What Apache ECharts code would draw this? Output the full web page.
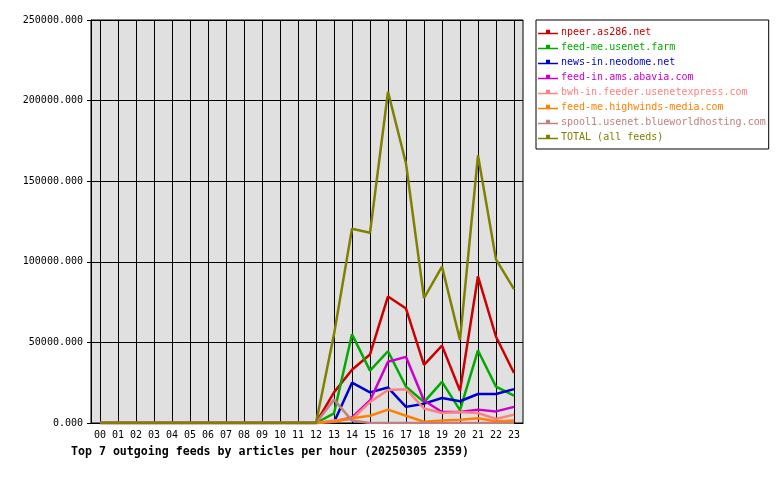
<!DOCTYPE html>
<html>
<head>
<meta charset="utf-8">
<script src="https://cdn.jsdelivr.net/npm/echarts@6/dist/echarts.min.js"></script>
<style>
  html, body { margin: 0; padding: 0; background: #fff; }
  #chart { width: 780px; height: 480px; }
</style>
</head>
<body>
<div id="chart"></div>
<script>
// hours of the day
const hours = ['00','01','02','03','04','05','06','07','08','09','10','11',
               '12','13','14','15','16','17','18','19','20','21','22','23'];

const feedNames = [
    'npeer.as286.net',
    'feed-me.usenet.farm',
    'news-in.neodome.net',
    'feed-in.ams.abavia.com',
    'bwh-in.feeder.usenetexpress.com',
    'feed-me.highwinds-media.com',
    'spool1.usenet.blueworldhosting.com',
    'TOTAL (all feeds)'
];
const feedColors = ['#cc0000', '#00aa00', '#0000cc', '#cc00cc',
                    '#ff8080', '#ff8000', '#c08080', '#808000'];

// articles per hour
const zeros = [0,0,0,0,0,0,0,0,0,0,0,0];
const npeer     = zeros.concat([0, 19000, 33000, 42500, 78500, 71000, 36000, 48000, 20000, 91000, 53500, 31000]);
const usenetFarm= zeros.concat([0,  6000, 55000, 32500, 44500, 22500, 13000, 25500,  8000, 45000, 22500, 17000]);
const neodome   = zeros.concat([0,   500, 25000, 19000, 22000, 10000, 12000, 15500, 13500, 18000, 18000, 21000]);
const abavia    = zeros.concat([0,  1000,  3500, 14000, 38000, 41000, 14000,  6800,  6800,  8300,  7200, 10000]);
const bwh       = zeros.concat([0,  1500,  2500, 13000, 20500, 21000,  9000,  6200,  6800,  6200,  2500,  5200]);
const highwinds = zeros.concat([0,   800,  3000,  4500,  8300,  4500,   800,  1500,  2000,  3000,  1000,  1500]);
const spool1    = zeros.concat([0, 14500,  1500,     0,     0,     0,     0,     0,     0,     0,     0,     0]);
const total     = zeros.concat([0, 55000,120500,118000,205500,161000, 77500, 97000, 51500,166000,101500, 83000]);

const yTicks = [0, 50000, 100000, 150000, 200000, 250000];

const feedData = [npeer, usenetFarm, neodome, abavia, bwh, highwinds, spool1, total];

// half-band helper axis so the vertical grid lines sit on the hour points
const halfSteps = [];
for (let i = 0; i <= hours.length * 2; i++) halfSteps.push(String(i));

const mono = 'DejaVu Sans Mono';
const chart = echarts.init(document.getElementById('chart'));

chart.setOption({
    animation: false,
    backgroundColor: '#ffffff',
    title: {
        text: 'Top 7 outgoing feeds by articles per hour (20250305 2359)',
        left: 71,
        top: 446,
        padding: 0,
        textStyle: { fontFamily: mono, fontSize: 11.6, fontWeight: 'bold', color: '#000' }
    },
    legend: {
        orient: 'vertical',
        left: 536,
        top: 20,
        padding: [6, 3, 6, 2],
        itemGap: 3,
        itemWidth: 20,
        itemHeight: 5,
        borderColor: '#000',
        borderWidth: 1,
        backgroundColor: '#fff',
        icon: 'path://M0,3 H8 V0 H12 V3 H20 V4.5 H0 Z',
        textStyle: { fontFamily: mono, fontSize: 10, lineHeight: 12, padding: [0, 0, 0, -2] },
        data: feedNames.map((n, i) => ({ name: n, textStyle: { color: feedColors[i] } }))
    },
    grid: {
        left: 91,
        top: 20,
        width: 432,
        height: 403,
        show: true,
        backgroundColor: '#e0e0e0',
        borderColor: '#000',
        borderWidth: 1
    },
    xAxis: [{
        type: 'category',
        data: hours,
        boundaryGap: true,
        axisLine: { lineStyle: { color: '#000', width: 1 } },
        axisTick: { alignWithLabel: true, length: 4, lineStyle: { color: '#000' } },
        axisLabel: { fontFamily: mono, fontSize: 10, color: '#000', margin: 7, interval: 0 },
        splitLine: { show: false }
    }, {
        type: 'category',
        data: halfSteps,
        boundaryGap: false,
        position: 'bottom',
        axisLine: { show: false },
        axisTick: { show: false },
        axisLabel: { show: false },
        splitLine: {
            show: true,
            interval: idx => idx % 2 === 1,
            lineStyle: { color: '#000', width: 1 }
        }
    }],
    yAxis: {
        type: 'value',
        min: yTicks[0],
        max: yTicks[yTicks.length - 1],
        interval: 50000,
        axisLine: { show: true, lineStyle: { color: '#000', width: 1 } },
        axisTick: { show: true, length: 4, lineStyle: { color: '#000' } },
        axisLabel: {
            fontFamily: mono, fontSize: 10, color: '#000', margin: 8,
            formatter: v => v.toFixed(3)
        },
        splitLine: { show: true, lineStyle: { color: '#000', width: 1 } }
    },
    series: feedNames.map((n, i) => ({
        name: n,
        type: 'line',
        xAxisIndex: 0,
        data: feedData[i],
        symbol: 'none',
        color: feedColors[i],
        lineStyle: { width: 2.5, color: feedColors[i] },
        emphasis: { disabled: true }
    }))
});
</script>
</body>
</html>
